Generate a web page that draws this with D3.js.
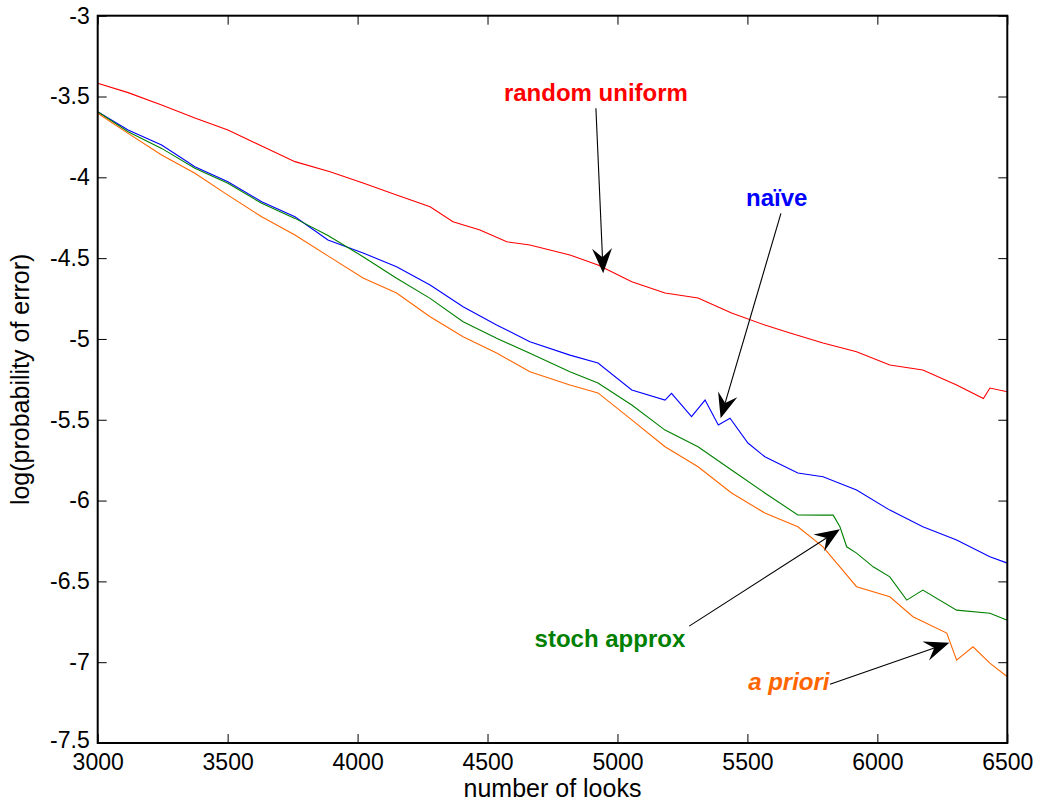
<!DOCTYPE html>
<html>
<head>
<meta charset="utf-8">
<script src="https://cdn.jsdelivr.net/npm/d3@7"></script>
<style>
  html, body { margin: 0; padding: 0; background: #fff; }
  svg { display: block; font-family: "Liberation Sans", Arial, sans-serif; }
</style>
</head>
<body>
<svg id="chart" width="1037" height="807"></svg>
<script>
// ---- data ----
const xTicks = [3000, 3500, 4000, 4500, 5000, 5500, 6000, 6500];
const yTicks = [-3, -3.5, -4, -4.5, -5, -5.5, -6, -6.5, -7, -7.5];
const yTickLabels = ["-3", "-3.5", "-4", "-4.5", "-5", "-5.5", "-6", "-6.5", "-7", "-7.5"];

const looksRandom = [3000,3117,3246,3374,3501,3631,3759,3894,4021,4150,4279,4367,4471,4574,4663,4817,4925,5055,5183,5310,5439,5567,5664,5791,5920,6048,6175,6305,6408,6433,6500];
const randomUniform = [-3.418,-3.476,-3.553,-3.633,-3.707,-3.806,-3.903,-3.965,-4.035,-4.109,-4.182,-4.275,-4.326,-4.399,-4.419,-4.481,-4.543,-4.646,-4.716,-4.747,-4.840,-4.914,-4.963,-5.025,-5.079,-5.161,-5.192,-5.285,-5.368,-5.304,-5.327];

const looksNaive = [3000,3117,3246,3374,3501,3631,3759,3886,4021,4150,4279,4406,4535,4663,4817,4925,5055,5183,5208,5285,5337,5388,5433,5502,5567,5694,5791,5920,6048,6175,6305,6433,6500];
const naive = [-3.594,-3.707,-3.800,-3.934,-4.027,-4.151,-4.244,-4.388,-4.468,-4.553,-4.666,-4.801,-4.914,-5.017,-5.100,-5.149,-5.316,-5.378,-5.337,-5.481,-5.378,-5.533,-5.491,-5.644,-5.729,-5.830,-5.853,-5.935,-6.059,-6.162,-6.244,-6.348,-6.387];

const looksStoch = [3000,3117,3246,3374,3501,3631,3759,3886,4021,4150,4279,4406,4535,4663,4817,4925,5055,5183,5310,5439,5567,5694,5791,5830,5856,5882,5920,5984,6048,6113,6175,6305,6433,6500];
const stochApprox = [-3.594,-3.718,-3.821,-3.944,-4.037,-4.161,-4.254,-4.360,-4.491,-4.625,-4.749,-4.894,-4.996,-5.089,-5.203,-5.273,-5.409,-5.564,-5.667,-5.811,-5.953,-6.089,-6.090,-6.090,-6.162,-6.286,-6.325,-6.410,-6.472,-6.616,-6.554,-6.678,-6.697,-6.740];

const looksPriori = [3000,3117,3246,3374,3501,3631,3759,3886,4021,4150,4279,4406,4535,4663,4817,4925,5055,5183,5310,5439,5567,5694,5791,5920,6048,6137,6267,6305,6368,6433,6500];
const aPriori = [-3.604,-3.728,-3.862,-3.975,-4.110,-4.244,-4.357,-4.486,-4.623,-4.716,-4.863,-4.986,-5.087,-5.203,-5.285,-5.334,-5.501,-5.667,-5.791,-5.953,-6.077,-6.162,-6.286,-6.533,-6.595,-6.719,-6.820,-6.987,-6.905,-7.006,-7.090];

const seriesColors = ["#ff0000", "#0000ff", "#008000", "#ff6600"];

// annotation anchors in data units
const annotations = [
  { label: "random uniform", tx: 4917, ty: -3.528, sx: 4917, sy: -3.573, ex: 4945, ey: -4.594, anchor: "middle", italic: false },
  { label: "naïve",          tx: 5613, ty: -4.178, sx: 5629, sy: -4.223, ex: 5397, ey: -5.491, anchor: "middle", italic: false },
  { label: "stoch approx",   tx: 4971, ty: -6.907, sx: 5276, sy: -6.777, ex: 5856, ey: -6.178, anchor: "middle", italic: false },
  { label: "a priori",       tx: 5816, ty: -7.172, sx: 5818, sy: -7.136, ex: 6277, ey: -6.880, anchor: "end",    italic: true }
];

// ---- layout ----
const svg = d3.select("#chart");
const margin = { left: 97.7, top: 15.7, right: 1037 - 1007.3, bottom: 807 - 743 };
const W = 1037 - margin.left - margin.right;
const H = 807 - margin.top - margin.bottom;

const x = d3.scaleLinear().domain([3000, 6500]).range([0, W]);
const y = d3.scaleLinear().domain([-7.5, -3]).range([H, 0]);

const g = svg.append("g").attr("transform", `translate(${margin.left},${margin.top})`);

svg.append("defs").append("clipPath").attr("id", "clip")
  .append("rect").attr("x", 0).attr("y", 0).attr("width", W).attr("height", H);

const series = [
  { xs: looksRandom, ys: randomUniform },
  { xs: looksNaive, ys: naive },
  { xs: looksStoch, ys: stochApprox },
  { xs: looksPriori, ys: aPriori }
];
const line = d3.line().x(d => x(d[0])).y(d => y(d[1]));
const plot = g.append("g").attr("clip-path", "url(#clip)");
series.forEach((s, i) => {
  const pts = s.xs.map((v, k) => [v, s.ys[k]]);
  plot.append("path").datum(pts)
    .attr("d", line)
    .attr("fill", "none")
    .attr("stroke", seriesColors[i])
    .attr("stroke-width", 1.1)
    .attr("stroke-linejoin", "miter");
});

// axes (ticks inside, matlab style)
const fontSize = 23;
const axB = g.append("g").attr("transform", `translate(0,${H})`)
  .call(d3.axisBottom(x).tickValues(xTicks).tickFormat(d3.format("d")).tickSizeInner(-9).tickSizeOuter(0).tickPadding(11));
const axL = g.append("g")
  .call(d3.axisLeft(y).tickValues(yTicks).tickFormat((d, i) => yTickLabels[i]).tickSizeInner(-9).tickSizeOuter(0).tickPadding(8));
const axT = g.append("g")
  .call(d3.axisTop(x).tickValues(xTicks).tickFormat("").tickSizeInner(-9).tickSizeOuter(0));
const axR = g.append("g").attr("transform", `translate(${W},0)`)
  .call(d3.axisRight(y).tickValues(yTicks).tickFormat("").tickSizeInner(-9).tickSizeOuter(0));
[axB, axL, axT, axR].forEach(a => {
  a.select(".domain").remove();
  a.selectAll(".tick line").attr("stroke", "#000").attr("stroke-width", 1);
  a.selectAll(".tick text").attr("fill", "#000").attr("font-size", fontSize)
    .attr("font-family", "'Liberation Sans', Arial, sans-serif");
});
// lowest y label sits a bit higher so it clears the first x label
axL.selectAll(".tick text").filter(d => d === -7.5).attr("dy", "0.2em");

g.append("rect").attr("x", 0).attr("y", 0).attr("width", W).attr("height", H)
  .attr("fill", "none").attr("stroke", "#000").attr("stroke-width", 2);

// axis labels
svg.append("text").attr("x", margin.left + W / 2).attr("y", 797)
  .attr("text-anchor", "middle").attr("font-size", 25).attr("fill", "#000")
  .text("number of looks");
svg.append("text").attr("transform", `translate(29,${margin.top + H / 2}) rotate(-90)`)
  .attr("text-anchor", "middle").attr("font-size", 25).attr("fill", "#000")
  .text("log(probability of error)");

// annotations
const ann = g.append("g");
annotations.forEach((a, i) => {
  const x0 = x(a.sx), y0 = y(a.sy), x1 = x(a.ex), y1 = y(a.ey);
  const ang = Math.atan2(y1 - y0, x1 - x0);
  const L = 25, hw = 10, notch = 16;
  const ux = Math.cos(ang), uy = Math.sin(ang);
  const px = -uy, py = ux;
  const bx = x1 - ux * L, by = y1 - uy * L;
  const nx = x1 - ux * notch, ny = y1 - uy * notch;
  ann.append("line").attr("x1", x0).attr("y1", y0).attr("x2", nx).attr("y2", ny)
    .attr("stroke", "#000").attr("stroke-width", 1.1);
  ann.append("path")
    .attr("d", `M${x1},${y1} L${bx + px * hw},${by + py * hw} L${nx},${ny} L${bx - px * hw},${by - py * hw} Z`)
    .attr("fill", "#000");
  ann.append("text").attr("x", x(a.tx)).attr("y", y(a.ty))
    .attr("text-anchor", a.anchor)
    .attr("font-size", 24).attr("font-weight", "bold")
    .attr("font-style", a.italic ? "italic" : "normal")
    .attr("fill", seriesColors[i])
    .text(a.label);
});
</script>
</body>
</html>
